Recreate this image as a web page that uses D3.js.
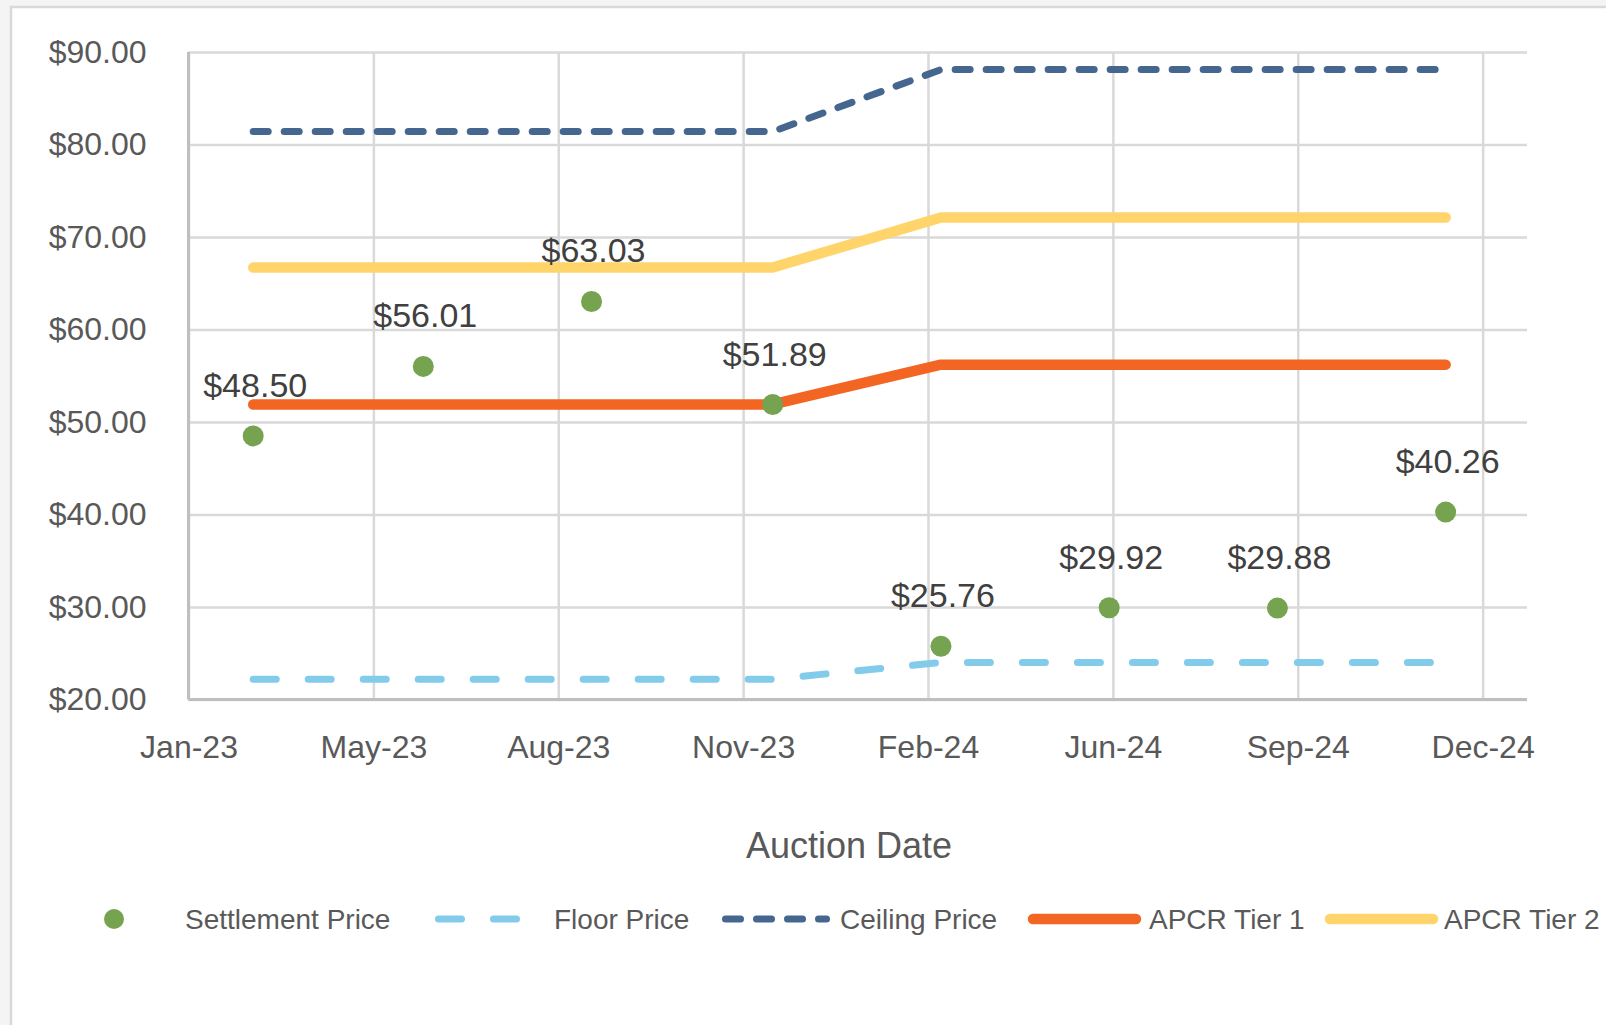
<!DOCTYPE html>
<meta charset="utf-8">
<style>
body{
	margin:0;
	background:#f4f4f4;
}
text{
	font-family:"Liberation Sans",Arial,sans-serif;
	fill:#595959;
}
.grid line{
	stroke:#d9d9d9;
	stroke-width:2.5px;
}
.grid path, .axis path, .axis line{
	display:none;
}
.axis text{
	font-size:32px;
}
.lbl{
	fill:#404040;
	font-size:34px;
	text-anchor:middle;
}
.legend text{
	font-size:28px;
}
</style>
<body>
<script src="https://d3js.org/d3.v7.min.js"></script>
<script>

// auction dates and prices
var auctionDates=["2023-02-28","2023-05-31","2023-08-30","2023-12-06","2024-03-06","2024-06-05","2024-09-04","2024-12-04"];
var settlement=[48.50,56.01,63.03,51.89,25.76,29.92,29.88,40.26];
var floorPrice=[22.2,22.2,22.2,22.2,24.0,24.0,24.0,24.0];
var ceilingPrice=[81.4,81.4,81.4,81.4,88.1,88.1,88.1,88.1];
var apcrTier1=[51.9,51.9,51.9,51.9,56.2,56.2,56.2,56.2];
var apcrTier2=[66.7,66.7,66.7,66.7,72.1,72.1,72.1,72.1];

// axes
var xDomain=["2023-01-24","2025-01-17"];
var xTicks=["2023-01-24","2023-05-04","2023-08-12","2023-11-20","2024-02-28","2024-06-07","2024-09-15","2024-12-24"];
var xTickLabels=["Jan-23","May-23","Aug-23","Nov-23","Feb-24","Jun-24","Sep-24","Dec-24"];
var yTicks=[20,30,40,50,60,70,80,90];

var parse=d3.timeParse("%Y-%m-%d");
var dates=auctionDates.map(parse);

var W=1606, H=1025;
var L=188.5, R=1527, T=52, B=699.5;

var svg=d3.select("body").append("svg").attr("width",W).attr("height",H);

// chart frame
svg.append("rect").attr("x",11).attr("y",7).attr("width",W).attr("height",H)
	.attr("fill","#fff").attr("stroke","#d9d9d9").attr("stroke-width",2.5);

var x=d3.scaleTime().domain(xDomain.map(parse)).range([L,R]);
var y=d3.scaleLinear().domain([20,90]).range([B,T]);

// gridlines
svg.append("g").attr("class","grid").attr("transform","translate("+L+",0)")
	.call(d3.axisLeft(y).tickValues(yTicks).tickSize(-(R-L)).tickFormat(""));
svg.append("g").attr("class","grid").attr("transform","translate(0,"+B+")")
	.call(d3.axisBottom(x).tickValues(xTicks.map(parse)).tickSize(-(B-T)).tickFormat(""));

// axis lines
svg.append("line").attr("x1",L).attr("x2",L).attr("y1",T).attr("y2",B)
	.attr("stroke","#bfbfbf").attr("stroke-width",3);
svg.append("line").attr("x1",L).attr("x2",R).attr("y1",B).attr("y2",B)
	.attr("stroke","#bfbfbf").attr("stroke-width",3);

// tick labels
svg.append("g").attr("class","axis").attr("transform","translate("+(L-42)+",0)")
	.call(d3.axisLeft(y).tickValues(yTicks).tickSize(0).tickPadding(0).tickFormat(d3.format("$.2f")));
svg.append("g").attr("class","axis").attr("transform","translate(0,"+(B+36)+")")
	.call(d3.axisBottom(x).tickValues(xTicks.map(parse)).tickSize(0).tickPadding(0)
		.tickFormat((d,i)=>xTickLabels[i]));

svg.append("text").attr("x",849).attr("y",845).attr("dy","0.35em")
	.style("text-anchor","middle").style("font-size","36px").text("Auction Date");

var series=[
	{name:"Floor Price",values:floorPrice,color:"#83cbeb",width:7,dash:"23,32"},
	{name:"Ceiling Price",values:ceilingPrice,color:"#44668f",width:7,dash:"15,16"},
	{name:"APCR Tier 1",values:apcrTier1,color:"#f26522",width:10.5,dash:null},
	{name:"APCR Tier 2",values:apcrTier2,color:"#ffd46a",width:10.5,dash:null}
];

var line=d3.line().x((d,i)=>x(dates[i])).y(d=>y(d));

series.forEach(function(s){
	svg.append("path").attr("d",line(s.values))
		.attr("fill","none").attr("stroke",s.color).attr("stroke-width",s.width)
		.attr("stroke-linecap","round").attr("stroke-linejoin","round")
		.attr("stroke-dasharray",s.dash);
});

// settlement prices
svg.selectAll(".pt").data(settlement).enter().append("circle").attr("class","pt")
	.attr("cx",(d,i)=>x(dates[i])).attr("cy",d=>y(d)).attr("r",10.5)
	.attr("fill","#76a34f");

svg.selectAll(".lbl").data(settlement).enter().append("text").attr("class","lbl")
	.attr("x",(d,i)=>x(dates[i])+2).attr("y",d=>y(d)-39)
	.text(d=>d3.format("$.2f")(d));

// legend
var lg=svg.append("g").attr("class","legend");
var ly=919;
lg.append("circle").attr("cx",114).attr("cy",ly).attr("r",10).attr("fill","#76a34f");
lg.append("text").attr("x",185).attr("y",ly).attr("dy","0.35em").text("Settlement Price");

var legPos=[[438.5,546,554],[725.5,826.5,840],[1033,1136,1149],[1330,1433,1444]];
series.forEach(function(s,i){
	var p=legPos[i];
	lg.append("line").attr("x1",p[0]).attr("x2",p[1]).attr("y1",ly).attr("y2",ly)
		.attr("stroke",s.color).attr("stroke-width",s.width)
		.attr("stroke-linecap","round").attr("stroke-dasharray",s.dash);
	lg.append("text").attr("x",p[2]).attr("y",ly).attr("dy","0.35em").text(s.name);
});
</script>
</body>
</html>
